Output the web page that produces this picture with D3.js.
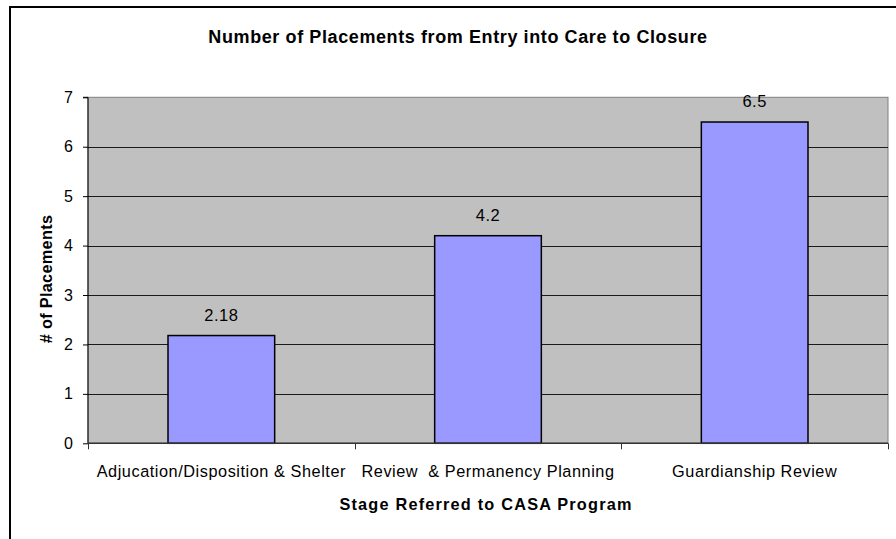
<!DOCTYPE html>
<html>
<head>
<meta charset="utf-8">
<script src="https://cdn.jsdelivr.net/npm/d3@7"></script>
<style>
  html, body { margin: 0; padding: 0; background: #fff; }
  svg { display: block; font-family: Arial, "Liberation Sans", sans-serif; }
</style>
</head>
<body>
<svg id="chart" width="896" height="539"></svg>
<script>
const categories = ["Adjucation/Disposition & Shelter", "Review  & Permanency Planning", "Guardianship Review"];
const values = [2.18, 4.2, 6.5];
const valueLabels = ["2.18", "4.2", "6.5"];
const yTicks = [0, 1, 2, 3, 4, 5, 6, 7];
const title = "Number of Placements from Entry into Care to Closure";
const xTitle = "Stage Referred to CASA Program";
const yTitle = "# of Placements";

const svg = d3.select("#chart");
const plot = { left: 88, right: 888, top: 97.3, bottom: 443.3 };

// outer frame
svg.append("rect").attr("x", 10).attr("y", 7).attr("width", 900).attr("height", 600)
  .attr("fill", "#fff").attr("stroke", "#000").attr("stroke-width", 2);

const x = d3.scaleBand().domain(categories).range([plot.left, plot.right])
  .paddingInner(0.6).paddingOuter(0.3);
const y = d3.scaleLinear().domain([0, 7]).range([plot.bottom, plot.top]);

// plot background
svg.append("rect").attr("x", plot.left).attr("y", plot.top)
  .attr("width", plot.right - plot.left).attr("height", plot.bottom - plot.top)
  .attr("fill", "#C0C0C0").attr("stroke", "#808080").attr("stroke-width", 1);

// gridlines
svg.append("g").selectAll("line").data(yTicks.filter(d => d > 0 && d < 7)).join("line")
  .attr("x1", plot.left).attr("x2", plot.right)
  .attr("y1", d => Math.round(y(d)) + 0.5).attr("y2", d => Math.round(y(d)) + 0.5)
  .attr("stroke", "#1a1a1a").attr("stroke-width", 1);

// bars
svg.append("g").selectAll("rect").data(values).join("rect")
  .attr("x", (d, i) => x(categories[i]))
  .attr("y", d => y(d))
  .attr("width", x.bandwidth())
  .attr("height", d => y(0) - y(d))
  .attr("fill", "#9999FF").attr("stroke", "#000").attr("stroke-width", 1.5);

// data labels
svg.append("g").selectAll("text").data(values).join("text")
  .attr("x", (d, i) => x(categories[i]) + x.bandwidth() / 2)
  .attr("y", d => y(d) - 15)
  .attr("text-anchor", "middle").attr("font-size", 16.5).attr("letter-spacing", 0.5).attr("fill", "#000")
  .text((d, i) => valueLabels[i]);

// y axis
const yAxis = d3.axisLeft(y).tickValues(yTicks).tickSize(5).tickPadding(10).tickFormat(d3.format("d"));
const gy = svg.append("g").attr("transform", `translate(${plot.left},0)`).call(yAxis);
gy.select(".domain").attr("stroke", "#000").attr("d", `M-5,${plot.top}H0V${plot.bottom}`);
gy.selectAll(".tick line").attr("stroke", "#000");
gy.selectAll(".tick text").attr("font-size", 16).attr("font-family", "Arial, 'Liberation Sans', sans-serif").attr("fill", "#000");

// x axis line and boundary ticks
const boundaries = [plot.left].concat(categories.map(c => x(c) + x.bandwidth() / 2 + x.step() / 2));
svg.append("line").attr("x1", plot.left).attr("x2", plot.right)
  .attr("y1", plot.bottom).attr("y2", plot.bottom).attr("stroke", "#333").attr("stroke-width", 1.5);
svg.append("g").selectAll("line").data(boundaries).join("line")
  .attr("x1", d => Math.round(d) + 0.5).attr("x2", d => Math.round(d) + 0.5)
  .attr("y1", plot.bottom).attr("y2", plot.bottom + 6)
  .attr("stroke", "#333").attr("stroke-width", 1);

// category labels
svg.append("g").selectAll("text").data(categories).join("text")
  .attr("x", d => x(d) + x.bandwidth() / 2)
  .attr("y", 477)
  .attr("text-anchor", "middle").attr("font-size", 16.3).attr("letter-spacing", 0.55).attr("fill", "#000")
  .style("white-space", "pre")
  .text(d => d);

// title
svg.append("text").attr("x", 458).attr("y", 43).attr("text-anchor", "middle")
  .attr("font-size", 18).attr("letter-spacing", 0.6).attr("font-weight", "bold").attr("fill", "#000").text(title);

// x title
svg.append("text").attr("x", 486).attr("y", 510).attr("text-anchor", "middle")
  .attr("font-size", 16.3).attr("letter-spacing", 1.2).attr("font-weight", "bold").attr("fill", "#000").text(xTitle);

// y title
svg.append("text").attr("transform", "translate(51.5,279) rotate(-90)").attr("text-anchor", "middle")
  .attr("font-size", 16.3).attr("letter-spacing", 0.3).attr("font-weight", "bold").attr("fill", "#000").text(yTitle);
</script>
</body>
</html>
